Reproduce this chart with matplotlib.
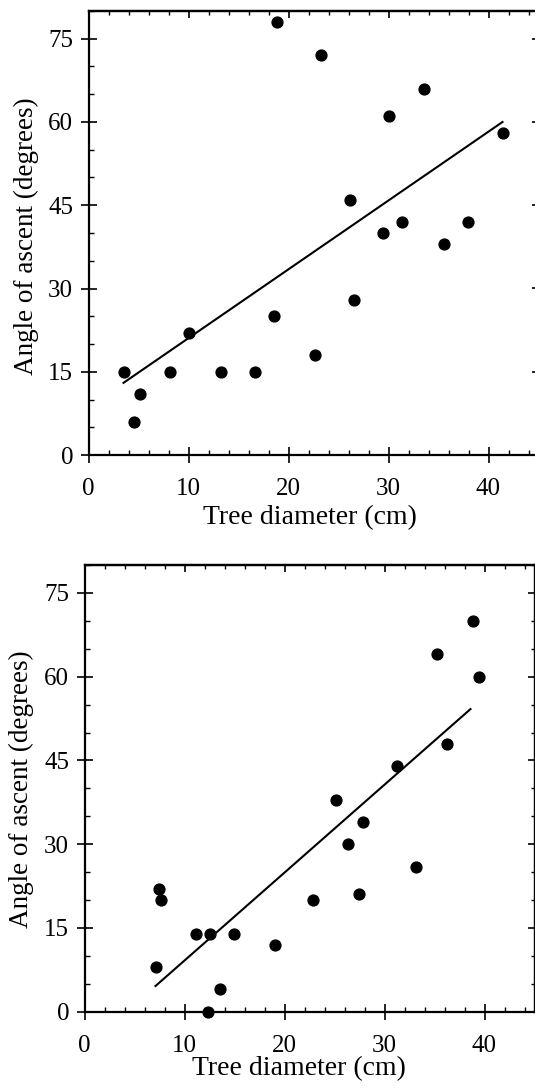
import matplotlib
matplotlib.use("Agg")
import matplotlib.pyplot as plt
from matplotlib.ticker import MultipleLocator, NullFormatter

# upper panel
top_diam = [3.5, 4.5, 5.1, 8.1, 10.0, 13.2, 16.6, 18.5, 18.8, 22.6, 23.2,
            26.1, 26.5, 29.4, 30.0, 31.3, 33.5, 35.5, 37.9, 41.4]
top_angle = [15, 6, 11, 15, 22, 15, 15, 25, 78, 18, 72,
             46, 28, 40, 61, 42, 66, 38, 42, 58]
top_fit_x = [3.5, 41.4]
top_fit_y = [13.0, 60.0]

# lower panel
bot_diam = [7.1, 7.4, 7.6, 11.1, 12.5, 12.3, 13.5, 14.9, 19.0, 22.8, 25.1,
            26.3, 27.4, 27.8, 31.2, 33.1, 35.2, 36.2, 38.8, 39.4]
bot_angle = [8, 22, 20, 14, 14, 0, 4, 14, 12, 20, 38,
             30, 21, 34, 44, 26, 64, 48, 70, 60]
bot_fit_x = [7.1, 38.6]
bot_fit_y = [4.6, 54.2]

xticks = [0, 10, 20, 30, 40]
yticks = [0, 15, 30, 45, 60, 75]

plt.rcParams['font.family'] = ['Liberation Serif', 'DejaVu Serif']

W, H = 535, 1090
fig = plt.figure(figsize=(W / 100, H / 100), dpi=100)

def make_panel(rect, xs, ys, fx, fy, xlab_pos, ylab_pos):
    ax = fig.add_axes(rect)
    ax.plot(xs, ys, 'o', color='black', markersize=7.8, clip_on=False, zorder=3)
    ax.plot(fx, fy, color='black', linewidth=1.5)
    ax.set_xlim(0, 45)
    ax.set_ylim(0, 80)
    ax.set_xticks(xticks)
    ax.set_yticks(yticks)
    ax.xaxis.set_minor_locator(MultipleLocator(2))
    ax.yaxis.set_minor_locator(MultipleLocator(5))
    for s in ax.spines.values():
        s.set_linewidth(1.6)
    ax.tick_params(which='major', direction='inout', length=12, width=1.2,
                   pad=5, labelsize=18, top=False, right=False)
    ax.tick_params(which='minor', direction='in', length=3.5, width=1.0,
                   top=False, right=False)
    ax.tick_params(axis='x', which='major', pad=10.5)
    # inward ticks on top and right
    sx = ax.secondary_xaxis('top')
    sx.set_xticks(xticks)
    sx.xaxis.set_minor_locator(MultipleLocator(2))
    sx.xaxis.set_major_formatter(NullFormatter())
    sx.tick_params(which='major', direction='in', length=5, width=1.2)
    sx.tick_params(which='minor', direction='in', length=3, width=1.0)
    sy = ax.secondary_yaxis('right')
    sy.set_yticks(yticks)
    sy.yaxis.set_minor_locator(MultipleLocator(5))
    sy.yaxis.set_major_formatter(NullFormatter())
    sy.tick_params(which='major', direction='in', length=5, width=1.2)
    sy.tick_params(which='minor', direction='in', length=3, width=1.0)
    for sec in (sx, sy):
        for s in sec.spines.values():
            s.set_linewidth(1.6)
    ax.set_xlabel('Tree diameter (cm)', fontsize=20)
    ax.xaxis.set_label_coords(*xlab_pos)
    ax.xaxis.label.set_va('center')
    ax.set_ylabel('Angle of ascent (degrees)', fontsize=19.5)
    ax.yaxis.set_label_coords(*ylab_pos)
    ax.yaxis.label.set_va('center')
    return ax

make_panel([88.5 / W, (H - 455) / H, 450 / W, 444 / H],
           top_diam, top_angle, top_fit_x, top_fit_y,
           (0.492, -0.14), (-0.139, 0.493))
make_panel([84.5 / W, (H - 1011.7) / H, 450 / W, 446.7 / H],
           bot_diam, bot_angle, bot_fit_x, bot_fit_y,
           (0.476, -0.127), (-0.141, 0.4985))

fig.savefig('out.png', dpi=100)
